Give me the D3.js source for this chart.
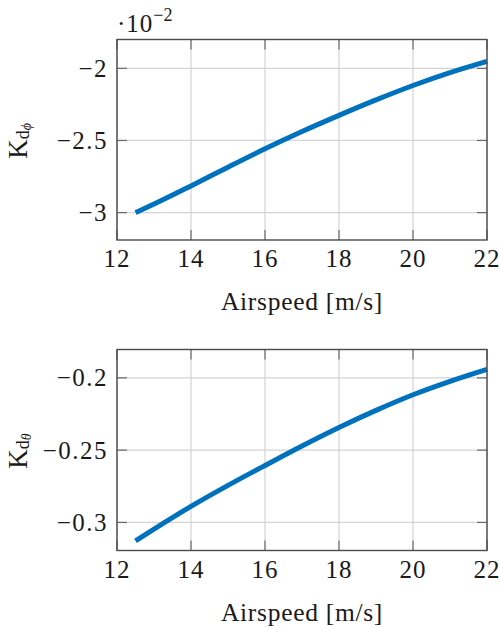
<!DOCTYPE html>
<html>
<head>
<meta charset="utf-8">
<script src="https://cdn.jsdelivr.net/npm/d3@7"></script>
<style>
  html, body { margin: 0; padding: 0; background: #fff; }
  svg { display: block; }
  text { font-family: "Liberation Serif", "DejaVu Serif", serif; fill: #1a1a1a; }
</style>
</head>
<body>
<svg id="chart" width="499" height="628"></svg>
<script>
// Airspeed samples [m/s]
const airspeed = [12.5, 13, 14, 15, 16, 17, 18, 19, 20, 21, 22];
// Derivative gain for roll (shown in units of 1e-2)
const kdPhi = [-3.000, -2.941, -2.815, -2.685, -2.558, -2.438, -2.326, -2.219, -2.119, -2.030, -1.952];
// Derivative gain for pitch
const kdTheta = [-0.3127, -0.3046, -0.2889, -0.2744, -0.2606, -0.2471, -0.2343, -0.2225, -0.2117, -0.2024, -0.1941];

const xTicks = [12, 14, 16, 18, 20, 22];
const phiTicks = [-3, -2.5, -2];
const thetaTicks = [-0.3, -0.25, -0.2];
const xLabel = "Airspeed [m/s]";

const svg = d3.select("#chart");
const x = d3.scaleLinear().domain([12, 22]).range([117, 487]);
const fmtMinus = s => s.replace("-", "\u2212");

function panel(opts) {
  const { top, bottom, yDomain, values, yTicks, fmt, sub } = opts;
  const y = d3.scaleLinear().domain(yDomain).range([bottom, top]);
  const g = svg.append("g");
  const [x0, x1] = x.range();

  // grid
  g.append("g").selectAll("line").data(xTicks).join("line")
    .attr("x1", d => x(d)).attr("x2", d => x(d))
    .attr("y1", top).attr("y2", bottom)
    .attr("stroke", "#d4d4d4").attr("stroke-width", 1.2);
  g.append("g").selectAll("line").data(yTicks).join("line")
    .attr("x1", x0).attr("x2", x1)
    .attr("y1", d => y(d)).attr("y2", d => y(d))
    .attr("stroke", "#d4d4d4").attr("stroke-width", 1.2);

  // inward tick marks on all four sides
  const tl = 10, tc = "#6a6a6a";
  const tk = g.append("g").attr("stroke", tc).attr("stroke-width", 1.2);
  xTicks.forEach(d => {
    tk.append("line").attr("x1", x(d)).attr("x2", x(d)).attr("y1", bottom).attr("y2", bottom - tl);
    tk.append("line").attr("x1", x(d)).attr("x2", x(d)).attr("y1", top).attr("y2", top + tl);
  });
  yTicks.forEach(d => {
    tk.append("line").attr("x1", x0).attr("x2", x0 + tl).attr("y1", y(d)).attr("y2", y(d));
    tk.append("line").attr("x1", x1).attr("x2", x1 - tl).attr("y1", y(d)).attr("y2", y(d));
  });

  // data line
  const line = d3.line()
    .x((d, i) => x(airspeed[i]))
    .y(d => y(d))
    .curve(d3.curveMonotoneX);
  g.append("path").datum(values)
    .attr("d", line)
    .attr("fill", "none")
    .attr("stroke", "#0072BD")
    .attr("stroke-width", 5);

  // frame
  g.append("rect")
    .attr("x", x0).attr("y", top)
    .attr("width", x1 - x0).attr("height", bottom - top)
    .attr("fill", "none").attr("stroke", "#4a4a4a").attr("stroke-width", 1.4);

  // tick labels
  g.append("g").selectAll("text").data(xTicks).join("text")
    .attr("x", d => x(d)).attr("y", bottom + 27)
    .attr("text-anchor", "middle").attr("font-size", 25)
    .attr("letter-spacing", 1)
    .text(d => d);
  g.append("g").selectAll("text").data(yTicks).join("text")
    .attr("x", x0 - 9).attr("y", d => y(d) + 8.5)
    .attr("text-anchor", "end").attr("font-size", 25)
    .attr("letter-spacing", 1.5)
    .text(d => fmtMinus(fmt(d)));

  // x label
  g.append("text")
    .attr("x", (x0 + x1) / 2).attr("y", bottom + 70)
    .attr("text-anchor", "middle").attr("font-size", 25.5)
    .attr("letter-spacing", 0.7)
    .text(xLabel);

  // y label: K with nested subscripts
  const cy = (top + bottom) / 2 + 1;
  const yl = g.append("text")
    .attr("transform", `translate(27,${cy}) rotate(-90)`)
    .attr("text-anchor", "middle");
  yl.append("tspan").attr("font-size", 27).text("K");
  yl.append("tspan").attr("font-size", 18).attr("dy", 2).text("d");
  yl.append("tspan").attr("font-size", 14).attr("font-style", "italic").attr("dy", 2).text(sub);
  return y;
}

panel({
  top: 39.5, bottom: 240, yDomain: [-3.19, -1.80],
  values: kdPhi, yTicks: phiTicks,
  fmt: d => (Number.isInteger(d) ? String(d) : d.toFixed(1)),
  sub: "\u03D5"
});

panel({
  top: 349.5, bottom: 550.5, yDomain: [-0.3194, -0.1804],
  values: kdTheta, yTicks: thetaTicks,
  fmt: d => String(d),
  sub: "\u03B8"
});

// scale factor note above the upper panel
const sf = svg.append("text").attr("x", 117).attr("y", 31.5);
sf.append("tspan").attr("font-size", 25).attr("letter-spacing", 1).text("\u00B710");
sf.append("tspan").attr("font-size", 18).attr("dy", -11).text("\u22122");
</script>
</body>
</html>
